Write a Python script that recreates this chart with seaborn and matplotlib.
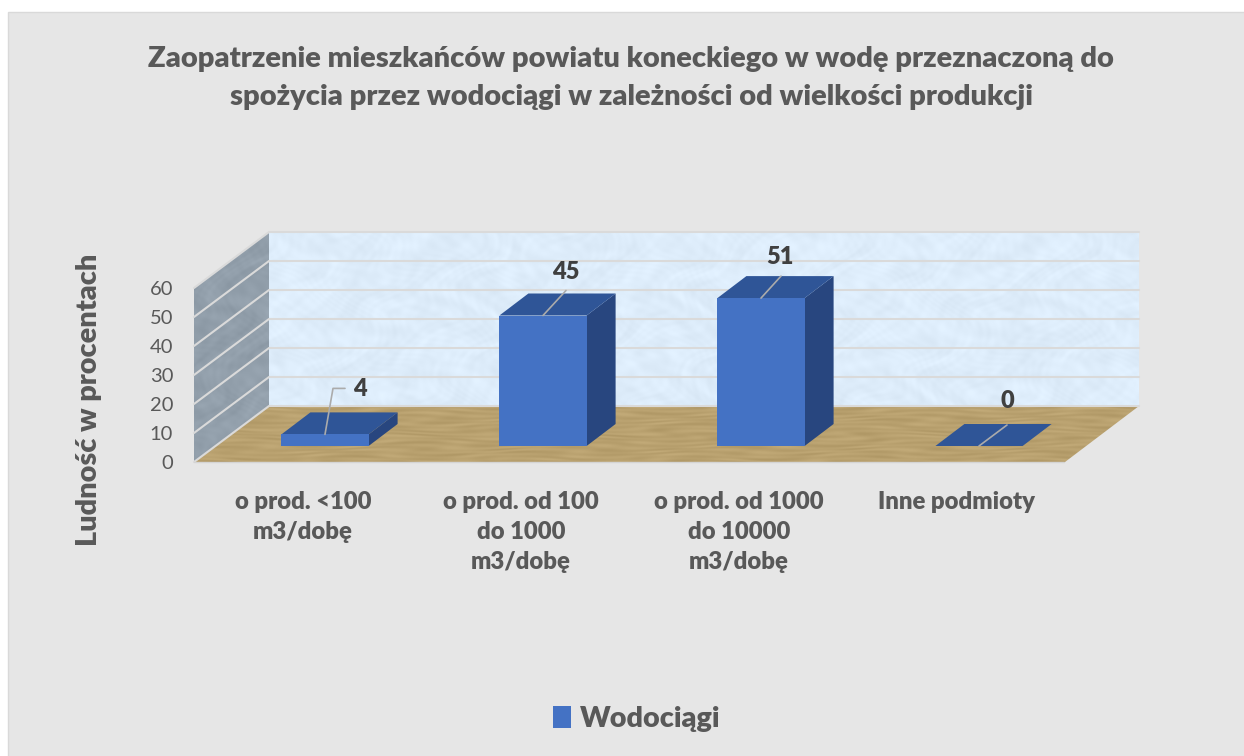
import numpy as np
import pandas as pd
import seaborn as sns
import matplotlib
matplotlib.use("Agg")
import matplotlib.pyplot as plt
from matplotlib.patches import Polygon, Rectangle

categories = ["o prod. <100\nm3/dobę", "o prod. od 100\ndo 1000\nm3/dobę",
              "o prod. od 1000\ndo 10000\nm3/dobę", "Inne podmioty"]
values = [4, 45, 51, 0]
series_name = "Wodociągi"
y_ticks = [0, 10, 20, 30, 40, 50, 60]
title = ("Zaopatrzenie mieszkańców powiatu koneckiego w wodę przeznaczoną do\n"
         "spożycia przez wodociągi w zależności od wielkości produkcji")
y_label = "Ludność w procentach"

W, H = 1244, 756
CARD, GREY, DARK = "#E6E6E6", "#595959", "#404040"
FRONT, TOP, SIDE = "#4472C4", "#2F5597", "#28467F"
DX, DY = 29, 22
HEAVY = 800

sns.set_theme(style="white")
plt.rcParams["font.family"] = ["Lato", "DejaVu Sans"]
fig = plt.figure(figsize=(W / 100, H / 100), dpi=100, facecolor="white")


def rect(l, t, r, b):
    return [l / W, 1 - b / H, (r - l) / W, (b - t) / H]


bg = fig.add_axes([0, 0, 1, 1])
bg.set_xlim(0, W)
bg.set_ylim(H, 0)
bg.axis("off")
bg.add_patch(Rectangle((8, 12), W, H, fc=CARD, ec="#D9D9D9", lw=1))


def texture(x0, y0, x1, y1, base, amp, kind, clip=None):
    xs, ys = np.meshgrid(np.arange(x0, x1, dtype=float), np.arange(y0, y1, dtype=float))
    if kind == "wood":
        warp = 2.5 * np.sin(xs * 0.037 + 1.3 * np.sin(ys * 0.21))
        n = (np.sin(ys * 1.37 + warp) + 0.8 * np.sin(ys * 0.53 + warp * 1.7 + xs * 0.013)
             + 0.7 * np.sin(xs * 0.071 + 2 * np.sin(ys * 0.37)))
    else:
        w1 = 2.2 * np.sin(xs * 0.053 + 1.7 * np.sin(ys * 0.071))
        w2 = 2.2 * np.sin(ys * 0.089 + 1.9 * np.sin(xs * 0.031))
        n = (np.sin(xs * 0.19 + w2) * np.sin(ys * 0.23 + w1)
             + 0.7 * np.sin(xs * 0.47 + 2 * w1) * np.sin(ys * 0.41 + 2 * w2)
             + 0.9 * np.sin(xs * 0.029 + w1 + w2))
    rgb = np.array(matplotlib.colors.to_rgb(base))
    img = np.clip(rgb[None, None, :] + (amp * n / 2.5)[:, :, None], 0, 1)
    im = bg.imshow(img, extent=(x0, x1, y1, y0), aspect="auto", zorder=1, interpolation="bilinear")
    if clip is not None:
        p = Polygon(clip, closed=True, transform=bg.transData, fc="none", ec="none")
        bg.add_patch(p)
        im.set_clip_path(p)
    return im


# plot box geometry (pixels)
fl, fr, fb, ft = 194, 1065, 462, 288
bl, br, bb, bt = 269, 1139, 406, 232

texture(bl, bt, br, bb, "#DEEDFB", 0.025, "wall")
texture(fl, bt, bl + 1, fb, "#929FAB", 0.03, "wall",
        clip=[(fl, ft), (bl, bt), (bl, bb), (fl, fb)])
texture(fl, bb, br + 1, fb + 1, "#B9A16F", 0.035, "wood",
        clip=[(fl, fb), (bl, bb), (br, bb), (fr, fb)])
bg.set_xlim(0, W)
bg.set_ylim(H, 0)

# front plane axes: value scale and category labels
ax = fig.add_axes(rect(fl, ft, fr + 1, fb))
ax.patch.set_alpha(0)
ax.set_xlim(-0.5, 3.5)
ax.set_ylim(0, 60)
sns.despine(ax=ax, left=True, bottom=True, top=True, right=True)
ax.set_yticks(y_ticks)
ax.set_yticklabels([str(v) for v in y_ticks], fontsize=14.5, color=GREY)
ax.set_xticks(range(len(categories)))
ax.set_xticklabels(categories, fontsize=17.2, fontweight=HEAVY, color=GREY, linespacing=1.45)
ax.tick_params(axis="both", length=0)
ax.tick_params(axis="y", pad=15)
ax.tick_params(axis="x", pad=21)
ax.set_ylabel(y_label, fontsize=20.8, fontweight=HEAVY, color=GREY, va="center")
ax.yaxis.set_label_coords(-0.1205, 0.356)

for v in y_ticks:
    xd0, yd0 = ax.transData.transform((-0.5, v))
    xd1, yd1 = xd0 + (bl - fl), yd0 + (fb - bb)
    xd2 = xd1 + (br - bl)
    ax.plot([xd0, xd1, xd2], [yd0, yd1, yd1], transform=None, color="#DADADA", lw=1.5, zorder=1,
            clip_on=False)
ax.plot([-0.5, 3.49], [0, 0], color="#D4D4D4", lw=1, zorder=1, clip_on=False)

# bars on a plane set back from the front edge of the floor
df = pd.DataFrame({"kategoria": categories, "wartosc": values})
bars_ax = fig.add_axes(rect(216, 272, 1088, 446), zorder=3)
bars_ax.patch.set_alpha(0)
sns.barplot(data=df, x="kategoria", y="wartosc", ax=bars_ax, color=FRONT, saturation=1,
            width=0.4, zorder=3, linewidth=0, edgecolor="none")
bars_ax.set_xlim(-0.5, 3.5)
bars_ax.set_ylim(0, 60)
bars_ax.axis("off")
bar_patches = list(bars_ax.patches[:len(values)])
for bar in bar_patches:
    x0, x1 = bar.get_x(), bar.get_x() + bar.get_width()
    h = bar.get_height()
    (px0, py0), (px1, py1) = bars_ax.transData.transform([(x0, 0), (x1, h)])
    side = [(px1, py0), (px1 + DX, py0 + DY), (px1 + DX, py1 + DY), (px1, py1)]
    top = [(px0, py1), (px0 + DX, py1 + DY), (px1 + DX, py1 + DY), (px1, py1)]
    bars_ax.add_patch(Polygon(side, transform=None, fc=SIDE, ec="none", zorder=2, clip_on=False))
    bars_ax.add_patch(Polygon(top, transform=None, fc=TOP, ec="none", zorder=2, clip_on=False))

# labels with leader lines
label_offsets = [((8, 46), (20, 46)), ((23, 25), None), ((20, 22), None), ((28, 21), None)]
text_offsets = [(35, 45), (23, 44), (19, 41), (28, 45)]
for i, (bar, val) in enumerate(zip(bar_patches, values)):
    cx = bar.get_x() + bar.get_width() / 2
    px, py = bars_ax.transData.transform((cx, bar.get_height()))
    (ox, oy), extra = label_offsets[i]
    xs, ys = [px, px + ox], [py, py + oy]
    if extra:
        xs.append(px + extra[0])
        ys.append(py + extra[1])
    bars_ax.plot(xs, ys, transform=None, color="#ABABAB", lw=1.2, zorder=5, clip_on=False)
    tx, ty = text_offsets[i]
    bars_ax.annotate(str(val), xy=(cx, bar.get_height()), xycoords="data",
                     xytext=(tx * 0.72, ty * 0.72), textcoords="offset points", ha="center",
                     va="center", fontsize=17, fontweight=HEAVY, color=DARK, zorder=6,
                     annotation_clip=False)

# title and legend
bg.text(631, 78, title, ha="center", va="center", fontsize=21, fontweight=HEAVY,
        color=GREY, linespacing=1.55, zorder=6)
handle = Rectangle((0, 0), 1, 1, fc=FRONT, ec="none")
fig.legend([handle], [series_name], loc="center", bbox_to_anchor=(637 / W, 1 - 719 / H),
           frameon=False, handlelength=0.62, handleheight=0.75, handletextpad=0.3,
           prop={"size": 20.8, "weight": HEAVY}, labelcolor=GREY)

fig.savefig("out.png", dpi=100, facecolor="white")
